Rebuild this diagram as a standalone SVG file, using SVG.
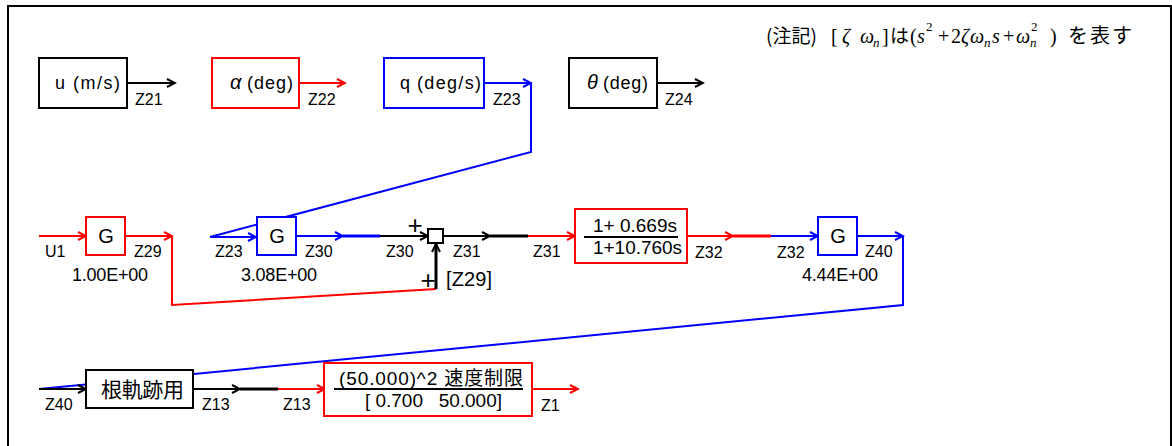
<svg xmlns="http://www.w3.org/2000/svg" width="1172" height="446" viewBox="0 0 1172 446">
<style>
.t{font-family:"Liberation Sans","Noto Sans CJK JP",sans-serif;fill:#000}
.lb{font-size:16px}
.gn{font-size:18px}
.bt{font-size:18px}
.gg{font-size:20px}
.gr{font-size:20px;font-style:italic}
.m{font-family:"Liberation Serif","DejaVu Serif",serif;font-size:20px;fill:#000}
.mi{font-style:italic}
.sm{font-size:13px}
.jp{font-family:"Noto Sans CJK JP",sans-serif;font-size:19px;fill:#000}
.bk{fill:#fff;stroke:#000;stroke-width:2}
.br{fill:#fff;stroke:#f00;stroke-width:2}
.bb{fill:#fff;stroke:#00f;stroke-width:2}
.ck{fill:none;stroke:#000;stroke-width:2}
.cr{fill:none;stroke:#f00;stroke-width:2}
.cb{fill:none;stroke:#00f;stroke-width:2}
.th{stroke-width:3}
.ak{marker-end:url(#ak)}
.ar{marker-end:url(#ar)}
.ab{marker-end:url(#ab)}
</style>
<defs>
<marker id="ak" markerUnits="userSpaceOnUse" markerWidth="12" markerHeight="12" viewBox="-10 -6 12 12" refX="0" refY="0" orient="auto"><path d="M-8,-4 L0,0 L-8,4" fill="none" stroke="#000" stroke-width="2"/></marker>
<marker id="ar" markerUnits="userSpaceOnUse" markerWidth="12" markerHeight="12" viewBox="-10 -6 12 12" refX="0" refY="0" orient="auto"><path d="M-8,-4 L0,0 L-8,4" fill="none" stroke="#f00" stroke-width="2"/></marker>
<marker id="ab" markerUnits="userSpaceOnUse" markerWidth="12" markerHeight="12" viewBox="-10 -6 12 12" refX="0" refY="0" orient="auto"><path d="M-8,-4 L0,0 L-8,4" fill="none" stroke="#00f" stroke-width="2"/></marker>
</defs>
<rect x="0" y="0" width="1172" height="446" fill="#fff"/>
<rect x="8" y="6" width="1163" height="470" fill="none" stroke="#000" stroke-width="2"/>

<g id="note">
<text class="jp" x="766" y="43">(注記)</text>
<text class="m" x="831" y="43">[</text>
<text class="m mi" x="842" y="43">ζ</text>
<text class="m mi" x="860" y="43">ω</text>
<text class="m mi sm" x="873" y="47">n</text>
<text class="m" x="882" y="43">]</text>
<text class="jp" x="890" y="43">は</text>
<text class="m" x="910" y="43">(</text>
<text class="m mi" x="917" y="43">s</text>
<text class="m sm" x="926" y="31">2</text>
<text class="m" x="938" y="43">+</text>
<text class="m" x="951" y="43">2</text>
<text class="m mi" x="961" y="43">ζ</text>
<text class="m mi" x="970" y="43">ω</text>
<text class="m mi sm" x="984" y="47">n</text>
<text class="m mi" x="992" y="43">s</text>
<text class="m" x="1003" y="43">+</text>
<text class="m mi" x="1016" y="43">ω</text>
<text class="m mi sm" x="1030" y="47">n</text>
<text class="m sm" x="1031" y="31">2</text>
<text class="m" x="1050" y="43">)</text>
<text class="jp" x="1068" y="43" style="font-size:20px;letter-spacing:2px">を表す</text>
</g>

<g id="connectors">
<line class="ck ak" x1="127" y1="83" x2="175" y2="83"/>
<line class="cr ar" x1="299" y1="83" x2="345" y2="83"/>
<line class="cb ab" x1="484" y1="83" x2="531" y2="83"/>
<polyline class="cb" points="531,83 531,152 210,237"/>
<line class="cb ab" x1="210" y1="237" x2="256" y2="237"/>
<line class="ck ak" x1="657" y1="83" x2="703" y2="83"/>

<line class="cr ar" x1="39" y1="236" x2="86" y2="236"/>
<line class="cr ar" x1="125" y1="236" x2="172" y2="236"/>
<polyline class="cr" points="172,236 172,305 436,289"/>
<line class="ck th ak" x1="436" y1="289" x2="436" y2="244"/>

<line class="cb ab" x1="296" y1="236" x2="343" y2="236"/>
<line class="cb th" x1="343" y1="236" x2="380" y2="236"/>
<line class="ck ak" x1="380" y1="236" x2="428" y2="236"/>

<line class="ck ak" x1="443" y1="236" x2="490" y2="236"/>
<line class="ck th" x1="490" y1="236" x2="528" y2="236"/>
<line class="cr ar" x1="528" y1="236" x2="575" y2="236"/>

<line class="cr ar" x1="687" y1="236" x2="733" y2="236"/>
<line class="cr th" x1="733" y1="236" x2="771" y2="236"/>
<line class="cb ab" x1="771" y1="236" x2="818" y2="236"/>

<line class="cb ab" x1="857" y1="236" x2="903" y2="236"/>
<polyline class="cb" points="903,236 903,305 39,389"/>

<line class="ck ak" x1="39" y1="389" x2="86" y2="389"/>
<line class="ck ak" x1="193" y1="389" x2="240" y2="389"/>
<line class="ck th" x1="240" y1="389" x2="278" y2="389"/>
<line class="cr ar" x1="278" y1="389" x2="325" y2="389"/>
<line class="cr ar" x1="532" y1="389" x2="578" y2="389"/>
</g>

<g id="u">
<rect class="bk" x="39" y="58" width="88" height="50"/>
<text class="t bt" x="55" y="89">u</text>
<text class="t bt" x="73" y="89" textLength="47">(m/s)</text>
<text class="t lb" x="135" y="105">Z21</text>
</g>
<g id="alpha">
<rect class="br" x="212" y="58" width="87" height="50"/>
<text class="t gr" x="230" y="89">α</text>
<text class="t bt" x="247" y="89" textLength="46">(deg)</text>
<text class="t lb" x="308" y="105">Z22</text>
</g>
<g id="q">
<rect class="bb" x="384" y="58" width="100" height="50"/>
<text class="t bt" x="400" y="89">q</text>
<text class="t bt" x="417" y="89" textLength="64">(deg/s)</text>
<text class="t lb" x="493" y="105">Z23</text>
</g>
<g id="theta">
<rect class="bk" x="569" y="58" width="88" height="50"/>
<text class="t gr" x="587" y="89">θ</text>
<text class="t bt" x="603" y="89" textLength="45">(deg)</text>
<text class="t lb" x="665" y="105">Z24</text>
</g>

<g id="g1">
<rect class="br" x="86" y="217" width="39" height="38"/>
<text class="t gg" x="106" y="243" text-anchor="middle">G</text>
<text class="t lb" x="45" y="257">U1</text>
<text class="t lb" x="134" y="257">Z29</text>
<text class="t gn" x="72" y="281" textLength="76">1.00E+00</text>
</g>
<g id="g2">
<rect class="bb" x="257" y="217" width="39" height="38"/>
<text class="t gg" x="277" y="243" text-anchor="middle">G</text>
<text class="t lb" x="215" y="257">Z23</text>
<text class="t lb" x="305" y="257">Z30</text>
<text class="t gn" x="241" y="281" textLength="76">3.08E+00</text>
</g>
<g id="sum">
<rect class="bk" x="428" y="229" width="15" height="14"/>
<text class="t" x="415" y="234" font-size="26" text-anchor="middle">+</text>
<text class="t" x="428" y="289" font-size="26" text-anchor="middle">+</text>
<text class="t" x="446" y="286" font-size="20" textLength="46">[Z29]</text>
<text class="t lb" x="386" y="257">Z30</text>
<text class="t lb" x="453" y="257">Z31</text>
</g>
<g id="leadlag">
<rect class="br" x="575" y="209" width="112" height="54"/>
<line x1="584" y1="237" x2="678" y2="237" stroke="#000" stroke-width="2"/>
<text class="t" x="593" y="232" font-size="19" textLength="84">1+ 0.669s</text>
<text class="t" x="593" y="254" font-size="19" textLength="89">1+10.760s</text>
<text class="t lb" x="533" y="257">Z31</text>
<text class="t lb" x="695" y="258">Z32</text>
</g>
<g id="g3">
<rect class="bb" x="818" y="217" width="39" height="38"/>
<text class="t gg" x="838" y="243" text-anchor="middle">G</text>
<text class="t lb" x="777" y="258">Z32</text>
<text class="t lb" x="865" y="257">Z40</text>
<text class="t gn" x="802" y="281" textLength="76">4.44E+00</text>
</g>
<g id="rootlocus">
<rect class="bk" x="86" y="370" width="107" height="38"/>
<text class="t" x="101" y="397" font-size="21" textLength="83">根軌跡用</text>
<text class="t lb" x="45" y="410">Z40</text>
<text class="t lb" x="202" y="410">Z13</text>
</g>
<g id="limit">
<rect class="br" x="324" y="363" width="208" height="53"/>
<line x1="334" y1="389" x2="523" y2="389" stroke="#000" stroke-width="2"/>
<text class="t" x="339" y="385" font-size="19" textLength="184">(50.000)^2 速度制限</text>
<text class="t" x="365" y="407" font-size="19" textLength="137" xml:space="preserve">[ 0.700   50.000]</text>
<text class="t lb" x="283" y="410">Z13</text>
<text class="t lb" x="541" y="411">Z1</text>
</g>
</svg>
